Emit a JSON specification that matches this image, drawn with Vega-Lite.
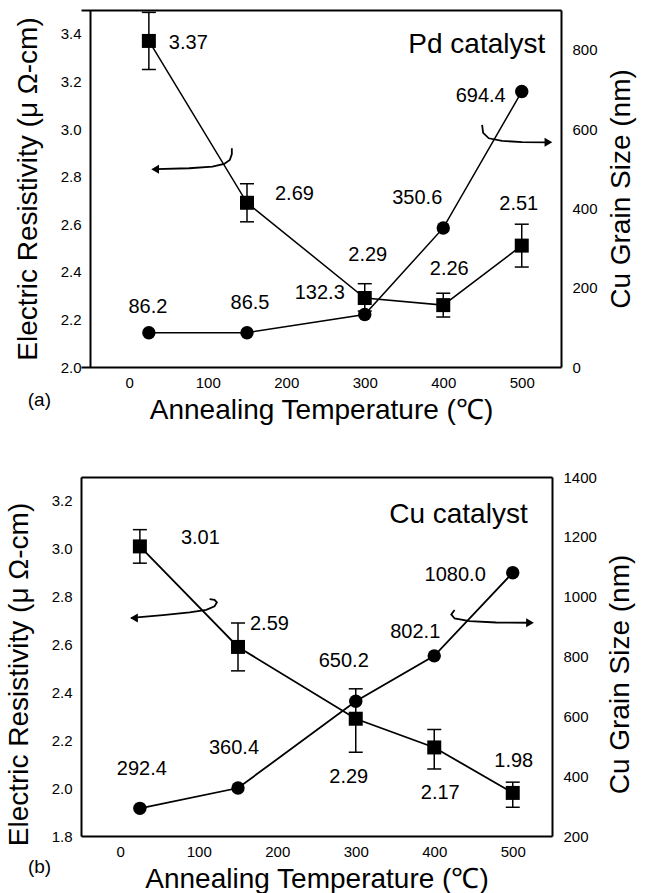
{
  "$schema": "https://vega.github.io/schema/vega-lite/v6.json",
  "padding": {"left": 5, "top": 9, "right": 5, "bottom": 1},
  "config": {
    "font": "Liberation Sans",
    "view": {"stroke": null},
    "axis": {"labelFont": "Liberation Sans", "labelFontSize": 15, "labelColor": "black", "titleFont": "Liberation Sans", "titleFontWeight": "normal", "titleColor": "black", "domainColor": "black", "domainWidth": 2, "ticks": false, "tickSize": 0, "grid": false},
    "text": {"font": "Liberation Sans", "color": "black"}
  },
  "datasets": {
    "resA": [{"T":25,"res":3.37,"lo":3.25,"hi":3.49},{"T":150,"res":2.69,"lo":2.61,"hi":2.77},{"T":300,"res":2.29,"lo":2.235,"hi":2.35},{"T":400,"res":2.26,"lo":2.21,"hi":2.31},{"T":500,"res":2.51,"lo":2.42,"hi":2.60}],
    "grainA": [{"T":25,"g":86.2},{"T":150,"g":86.5},{"T":300,"g":132.3},{"T":400,"g":350.6},{"T":500,"g":694.4}],
    "arrowsA": [{"id":"L","ord":0,"T":34.0,"res":2.831},{"id":"L","ord":1,"T":76.3,"res":2.835},{"id":"L","ord":2,"T":106.0,"res":2.842},{"id":"L","ord":3,"T":120.9,"res":2.853},{"id":"L","ord":4,"T":128.1,"res":2.870},{"id":"L","ord":5,"T":130.7,"res":2.895},{"id":"L","ord":6,"T":130.7,"res":2.919},
                {"id":"R","ord":0,"T":449.5,"res":3.017},{"id":"R","ord":1,"T":450.8,"res":2.984},{"id":"R","ord":2,"T":458.0,"res":2.961},{"id":"R","ord":3,"T":474.9,"res":2.950},{"id":"R","ord":4,"T":500.4,"res":2.945},{"id":"R","ord":5,"T":534.0,"res":2.944}],
    "headsA": [{"T":33,"res":2.831,"dir":"left"},{"T":534,"res":2.944,"dir":"right"}],
    "notesA": [{"T":530,"res":3.353,"txt":"Pd catalyst"}],
    "tagA": [{"T":-114.5,"res":1.861,"txt":"(a)"}],
    "resB": [{"T":25,"res":3.01,"lo":2.94,"hi":3.08},{"T":150,"res":2.59,"lo":2.49,"hi":2.69},{"T":300,"res":2.29,"lo":2.15,"hi":2.415},{"T":400,"res":2.17,"lo":2.08,"hi":2.245},{"T":500,"res":1.98,"lo":1.92,"hi":2.025}],
    "grainB": [{"T":25,"g":292.4},{"T":150,"g":360.4},{"T":300,"g":650.2},{"T":400,"g":802.1},{"T":500,"g":1080.0}],
    "arrowsB": [{"id":"L","ord":0,"T":14.0,"res":2.711},{"id":"L","ord":1,"T":54.3,"res":2.723},{"id":"L","ord":2,"T":88.3,"res":2.734},{"id":"L","ord":3,"T":109.6,"res":2.745},{"id":"L","ord":4,"T":120.1,"res":2.760},{"id":"L","ord":5,"T":123.1,"res":2.776},{"id":"L","ord":6,"T":120.1,"res":2.787},{"id":"L","ord":7,"T":113.8,"res":2.790},
                {"id":"R","ord":0,"T":425.9,"res":2.744},{"id":"R","ord":1,"T":421.7,"res":2.726},{"id":"R","ord":2,"T":425.9,"res":2.709},{"id":"R","ord":3,"T":445.0,"res":2.698},{"id":"R","ord":4,"T":479.0,"res":2.692},{"id":"R","ord":5,"T":522.0,"res":2.691}],
    "headsB": [{"T":17.5,"res":2.711,"dir":"left"},{"T":522,"res":2.691,"dir":"right"}],
    "notesB": [{"T":519,"res":3.14,"txt":"Cu catalyst"}],
    "tagB": [{"T":-102.8,"res":1.671,"txt":"(b)"}],
    "xMaj": [{"v":0},{"v":100},{"v":200},{"v":300},{"v":400},{"v":500}],
    "xMin": [{"v":50},{"v":150},{"v":250},{"v":350},{"v":450}],
    "yMajA": [{"v":2.2},{"v":2.4},{"v":2.6},{"v":2.8},{"v":3.0},{"v":3.2},{"v":3.4}],
    "yMinA": [{"v":2.1},{"v":2.3},{"v":2.5},{"v":2.7},{"v":2.9},{"v":3.1},{"v":3.3}],
    "gMajA": [{"v":200},{"v":400},{"v":600},{"v":800}],
    "gMinA": [{"v":100},{"v":300},{"v":500},{"v":700}],
    "yMajB": [{"v":2.0},{"v":2.2},{"v":2.4},{"v":2.6},{"v":2.8},{"v":3.0},{"v":3.2}],
    "yMinB": [{"v":1.9},{"v":2.1},{"v":2.3},{"v":2.5},{"v":2.7},{"v":2.9},{"v":3.1}],
    "gMajB": [{"v":400},{"v":600},{"v":800},{"v":1000},{"v":1200}],
    "gMinB": [{"v":300},{"v":500},{"v":700},{"v":900},{"v":1100},{"v":1300}]
  },
  "spacing": 46,
  "vconcat": [
    {
      "width": 480, "height": 357,
      "resolve": {"scale": {"y": "independent"}, "axis": {"x": "independent", "y": "independent"}},
      "layer": [
        {
          "data": {"name": "resA"},
          "encoding": {
            "x": {"field": "T", "type": "quantitative", "scale": {"domain": [-61.45, 550], "nice": false, "zero": false},
              "axis": {"orient": "bottom", "values": [0,100,200,300,400,500], "labelPadding": 8, "title": "Annealing Temperature (℃)", "titleFontSize": 28, "titlePadding": 6, "encode": {"domain": {"update": {"x": {"value": 9}}}}}},
            "y": {"field": "res", "type": "quantitative", "scale": {"domain": [2.0, 3.5], "nice": false, "zero": false},
              "axis": {"orient": "left", "offset": -9, "values": [2.0,2.2,2.4,2.6,2.8,3.0,3.2,3.4], "format": ".1f", "labelPadding": 9, "title": "Electric Resistivity (μ Ω-cm)", "titleFontSize": 28, "titlePadding": 18}}
          },
          "layer": [
            {"data": {"name": "xMaj"}, "mark": {"type": "point", "shape": "M0,0V-1", "size": 256, "filled": false, "stroke": "black", "strokeWidth": 2, "opacity": 1}, "encoding": {"x": {"field": "v", "type": "quantitative"}, "y": {"datum": 2.0, "type": "quantitative"}}},
            {"data": {"name": "xMin"}, "mark": {"type": "point", "shape": "M0,0V-1", "size": 64, "filled": false, "stroke": "black", "strokeWidth": 1.6, "opacity": 1}, "encoding": {"x": {"field": "v", "type": "quantitative"}, "y": {"datum": 2.0, "type": "quantitative"}}},
            {"data": {"name": "xMaj"}, "mark": {"type": "point", "shape": "M0,0V1", "size": 256, "filled": false, "stroke": "black", "strokeWidth": 2, "opacity": 1}, "encoding": {"x": {"field": "v", "type": "quantitative"}, "y": {"datum": 3.5, "type": "quantitative"}}},
            {"data": {"name": "xMin"}, "mark": {"type": "point", "shape": "M0,0V1", "size": 64, "filled": false, "stroke": "black", "strokeWidth": 1.6, "opacity": 1}, "encoding": {"x": {"field": "v", "type": "quantitative"}, "y": {"datum": 3.5, "type": "quantitative"}}},
            {"data": {"name": "yMajA"}, "mark": {"type": "point", "shape": "M0,0H1", "size": 256, "filled": false, "stroke": "black", "strokeWidth": 2, "opacity": 1}, "encoding": {"y": {"field": "v", "type": "quantitative"}, "x": {"datum": -50, "type": "quantitative"}}},
            {"data": {"name": "yMinA"}, "mark": {"type": "point", "shape": "M0,0H1", "size": 64, "filled": false, "stroke": "black", "strokeWidth": 1.6, "opacity": 1}, "encoding": {"y": {"field": "v", "type": "quantitative"}, "x": {"datum": -50, "type": "quantitative"}}},
            {"mark": {"type": "rule", "color": "black", "strokeWidth": 1.5}, "encoding": {"y": {"field": "lo", "type": "quantitative"}, "y2": {"field": "hi"}}},
            {"transform": [{"fold": ["lo", "hi"], "as": ["k", "v"]}], "mark": {"type": "point", "shape": "M-1,0H1", "size": 196, "filled": false, "stroke": "black", "strokeWidth": 1.5, "opacity": 1}, "encoding": {"y": {"field": "v", "type": "quantitative"}}},
            {"mark": {"type": "line", "color": "black", "strokeWidth": 1.5}},
            {"mark": {"type": "point", "shape": "square", "size": 196, "filled": true, "color": "black", "opacity": 1}},
            {"transform": [{"filter": "datum.T == 25"}], "mark": {"type": "text", "fontSize": 20, "align": "left", "baseline": "middle", "dx": 20, "dy": 2}, "encoding": {"text": {"field": "res", "type": "quantitative", "format": ".2f"}}},
            {"transform": [{"filter": "datum.T == 150"}], "mark": {"type": "text", "fontSize": 20, "align": "left", "baseline": "middle", "dx": 28, "dy": -9}, "encoding": {"text": {"field": "res", "type": "quantitative", "format": ".2f"}}},
            {"transform": [{"filter": "datum.T == 300"}], "mark": {"type": "text", "fontSize": 20, "align": "center", "baseline": "middle", "dx": 3, "dy": -43}, "encoding": {"text": {"field": "res", "type": "quantitative", "format": ".2f"}}},
            {"transform": [{"filter": "datum.T == 400"}], "mark": {"type": "text", "fontSize": 20, "align": "center", "baseline": "middle", "dx": 6, "dy": -36}, "encoding": {"text": {"field": "res", "type": "quantitative", "format": ".2f"}}},
            {"transform": [{"filter": "datum.T == 500"}], "mark": {"type": "text", "fontSize": 20, "align": "center", "baseline": "middle", "dx": -3, "dy": -42}, "encoding": {"text": {"field": "res", "type": "quantitative", "format": ".2f"}}},
            {"data": {"name": "arrowsA"}, "mark": {"type": "line", "color": "black", "strokeWidth": 1.8}, "encoding": {"detail": {"field": "id"}, "order": {"field": "ord", "type": "quantitative"}}},
            {"data": {"name": "headsA"}, "mark": {"type": "point", "filled": true, "color": "black", "opacity": 1, "size": 80}, "encoding": {"shape": {"field": "dir", "type": "nominal", "scale": {"domain": ["left", "right"], "range": ["triangle-left", "triangle-right"]}, "legend": null}}},
            {"data": {"name": "notesA"}, "mark": {"type": "text", "fontSize": 28, "align": "right", "baseline": "middle"}, "encoding": {"text": {"field": "txt"}}},
            {"data": {"name": "tagA"}, "mark": {"type": "text", "fontSize": 19, "align": "center", "baseline": "middle"}, "encoding": {"text": {"field": "txt"}}}
          ]
        },
        {
          "data": {"name": "grainA"},
          "encoding": {
            "x": {"field": "T", "type": "quantitative",
              "axis": {"orient": "top", "values": [0,100,200,300,400,500], "labels": false, "title": null, "encode": {"domain": {"update": {"x": {"value": 9}}}}}},
            "y": {"field": "g", "type": "quantitative", "scale": {"domain": [0, 900], "nice": false, "zero": false},
              "axis": {"orient": "right", "values": [0,200,400,600,800], "format": "d", "labelPadding": 11, "title": "Cu Grain Size (nm)", "titleFontSize": 28, "titleAngle": 270, "titleBaseline": "top", "titlePadding": 10}}
          },
          "layer": [
            {"data": {"name": "gMajA"}, "mark": {"type": "point", "shape": "M0,0H-1", "size": 256, "filled": false, "stroke": "black", "strokeWidth": 2, "opacity": 1}, "encoding": {"y": {"field": "v", "type": "quantitative"}, "x": {"datum": 550, "type": "quantitative"}}},
            {"data": {"name": "gMinA"}, "mark": {"type": "point", "shape": "M0,0H-1", "size": 64, "filled": false, "stroke": "black", "strokeWidth": 1.6, "opacity": 1}, "encoding": {"y": {"field": "v", "type": "quantitative"}, "x": {"datum": 550, "type": "quantitative"}}},
            {"mark": {"type": "line", "color": "black", "strokeWidth": 1.5}},
            {"mark": {"type": "point", "shape": "circle", "size": 180, "filled": true, "color": "black", "opacity": 1}},
            {"transform": [{"filter": "datum.T == 25"}], "mark": {"type": "text", "fontSize": 20, "align": "center", "baseline": "middle", "dx": -1, "dy": -26}, "encoding": {"text": {"field": "g", "type": "quantitative", "format": ".1f"}}},
            {"transform": [{"filter": "datum.T == 150"}], "mark": {"type": "text", "fontSize": 20, "align": "center", "baseline": "middle", "dx": 3, "dy": -30}, "encoding": {"text": {"field": "g", "type": "quantitative", "format": ".1f"}}},
            {"transform": [{"filter": "datum.T == 300"}], "mark": {"type": "text", "fontSize": 20, "align": "center", "baseline": "middle", "dx": -45, "dy": -22}, "encoding": {"text": {"field": "g", "type": "quantitative", "format": ".1f"}}},
            {"transform": [{"filter": "datum.T == 400"}], "mark": {"type": "text", "fontSize": 20, "align": "center", "baseline": "middle", "dx": -26, "dy": -30}, "encoding": {"text": {"field": "g", "type": "quantitative", "format": ".1f"}}},
            {"transform": [{"filter": "datum.T == 500"}], "mark": {"type": "text", "fontSize": 20, "align": "right", "baseline": "middle", "dx": -16, "dy": 4}, "encoding": {"text": {"field": "g", "type": "quantitative", "format": ".1f"}}}
          ]
        }
      ]
    },
    {
      "width": 471, "height": 359,
      "resolve": {"scale": {"y": "independent"}, "axis": {"x": "independent", "y": "independent"}},
      "layer": [
        {
          "data": {"name": "resB"},
          "encoding": {
            "x": {"field": "T", "type": "quantitative", "scale": {"domain": [-50, 550], "nice": false, "zero": false},
              "axis": {"orient": "bottom", "values": [0,100,200,300,400,500], "labelPadding": 8, "title": "Annealing Temperature (℃)", "titleFontSize": 28, "titlePadding": 6}},
            "y": {"field": "res", "type": "quantitative", "scale": {"domain": [1.8, 3.3], "nice": false, "zero": false},
              "axis": {"orient": "left", "values": [1.8,2.0,2.2,2.4,2.6,2.8,3.0,3.2], "format": ".1f", "labelPadding": 9, "title": "Electric Resistivity (μ Ω-cm)", "titleFontSize": 28, "titlePadding": 18, "titleY": 197}}
          },
          "layer": [
            {"data": {"name": "xMaj"}, "mark": {"type": "point", "shape": "M0,0V-1", "size": 256, "filled": false, "stroke": "black", "strokeWidth": 2, "opacity": 1}, "encoding": {"x": {"field": "v", "type": "quantitative"}, "y": {"datum": 1.8, "type": "quantitative"}}},
            {"data": {"name": "xMin"}, "mark": {"type": "point", "shape": "M0,0V-1", "size": 64, "filled": false, "stroke": "black", "strokeWidth": 1.6, "opacity": 1}, "encoding": {"x": {"field": "v", "type": "quantitative"}, "y": {"datum": 1.8, "type": "quantitative"}}},
            {"data": {"name": "xMaj"}, "mark": {"type": "point", "shape": "M0,0V1", "size": 256, "filled": false, "stroke": "black", "strokeWidth": 2, "opacity": 1}, "encoding": {"x": {"field": "v", "type": "quantitative"}, "y": {"datum": 3.3, "type": "quantitative"}}},
            {"data": {"name": "xMin"}, "mark": {"type": "point", "shape": "M0,0V1", "size": 64, "filled": false, "stroke": "black", "strokeWidth": 1.6, "opacity": 1}, "encoding": {"x": {"field": "v", "type": "quantitative"}, "y": {"datum": 3.3, "type": "quantitative"}}},
            {"data": {"name": "yMajB"}, "mark": {"type": "point", "shape": "M0,0H1", "size": 256, "filled": false, "stroke": "black", "strokeWidth": 2, "opacity": 1}, "encoding": {"y": {"field": "v", "type": "quantitative"}, "x": {"datum": -50, "type": "quantitative"}}},
            {"data": {"name": "yMinB"}, "mark": {"type": "point", "shape": "M0,0H1", "size": 64, "filled": false, "stroke": "black", "strokeWidth": 1.6, "opacity": 1}, "encoding": {"y": {"field": "v", "type": "quantitative"}, "x": {"datum": -50, "type": "quantitative"}}},
            {"mark": {"type": "rule", "color": "black", "strokeWidth": 1.5}, "encoding": {"y": {"field": "lo", "type": "quantitative"}, "y2": {"field": "hi"}}},
            {"transform": [{"fold": ["lo", "hi"], "as": ["k", "v"]}], "mark": {"type": "point", "shape": "M-1,0H1", "size": 196, "filled": false, "stroke": "black", "strokeWidth": 1.5, "opacity": 1}, "encoding": {"y": {"field": "v", "type": "quantitative"}}},
            {"mark": {"type": "line", "color": "black", "strokeWidth": 1.8}},
            {"mark": {"type": "point", "shape": "square", "size": 196, "filled": true, "color": "black", "opacity": 1}},
            {"transform": [{"filter": "datum.T == 25"}], "mark": {"type": "text", "fontSize": 20, "align": "left", "baseline": "middle", "dx": 41, "dy": -8}, "encoding": {"text": {"field": "res", "type": "quantitative", "format": ".2f"}}},
            {"transform": [{"filter": "datum.T == 150"}], "mark": {"type": "text", "fontSize": 20, "align": "left", "baseline": "middle", "dx": 12, "dy": -23}, "encoding": {"text": {"field": "res", "type": "quantitative", "format": ".2f"}}},
            {"transform": [{"filter": "datum.T == 300"}], "mark": {"type": "text", "fontSize": 20, "align": "center", "baseline": "middle", "dx": -7, "dy": 58}, "encoding": {"text": {"field": "res", "type": "quantitative", "format": ".2f"}}},
            {"transform": [{"filter": "datum.T == 400"}], "mark": {"type": "text", "fontSize": 20, "align": "center", "baseline": "middle", "dx": 6, "dy": 46}, "encoding": {"text": {"field": "res", "type": "quantitative", "format": ".2f"}}},
            {"transform": [{"filter": "datum.T == 500"}], "mark": {"type": "text", "fontSize": 20, "align": "center", "baseline": "middle", "dx": 1, "dy": -32}, "encoding": {"text": {"field": "res", "type": "quantitative", "format": ".2f"}}},
            {"data": {"name": "arrowsB"}, "mark": {"type": "line", "color": "black", "strokeWidth": 1.8}, "encoding": {"detail": {"field": "id"}, "order": {"field": "ord", "type": "quantitative"}}},
            {"data": {"name": "headsB"}, "mark": {"type": "point", "filled": true, "color": "black", "opacity": 1, "size": 80}, "encoding": {"shape": {"field": "dir", "type": "nominal", "scale": {"domain": ["left", "right"], "range": ["triangle-left", "triangle-right"]}, "legend": null}}},
            {"data": {"name": "notesB"}, "mark": {"type": "text", "fontSize": 28, "align": "right", "baseline": "middle"}, "encoding": {"text": {"field": "txt"}}},
            {"data": {"name": "tagB"}, "mark": {"type": "text", "fontSize": 19, "align": "center", "baseline": "middle"}, "encoding": {"text": {"field": "txt"}}}
          ]
        },
        {
          "data": {"name": "grainB"},
          "encoding": {
            "x": {"field": "T", "type": "quantitative",
              "axis": {"orient": "top", "values": [0,100,200,300,400,500], "labels": false, "title": null}},
            "y": {"field": "g", "type": "quantitative", "scale": {"domain": [200, 1400], "nice": false, "zero": false},
              "axis": {"orient": "right", "values": [200,400,600,800,1000,1200,1400], "format": "d", "labelPadding": 11, "title": "Cu Grain Size (nm)", "titleFontSize": 28, "titleAngle": 270, "titleBaseline": "top", "titlePadding": 10, "titleY": 197}}
          },
          "layer": [
            {"data": {"name": "gMajB"}, "mark": {"type": "point", "shape": "M0,0H-1", "size": 256, "filled": false, "stroke": "black", "strokeWidth": 2, "opacity": 1}, "encoding": {"y": {"field": "v", "type": "quantitative"}, "x": {"datum": 550, "type": "quantitative"}}},
            {"data": {"name": "gMinB"}, "mark": {"type": "point", "shape": "M0,0H-1", "size": 64, "filled": false, "stroke": "black", "strokeWidth": 1.6, "opacity": 1}, "encoding": {"y": {"field": "v", "type": "quantitative"}, "x": {"datum": 550, "type": "quantitative"}}},
            {"mark": {"type": "line", "color": "black", "strokeWidth": 1.8}},
            {"mark": {"type": "point", "shape": "circle", "size": 180, "filled": true, "color": "black", "opacity": 1}},
            {"transform": [{"filter": "datum.T == 25"}], "mark": {"type": "text", "fontSize": 20, "align": "center", "baseline": "middle", "dx": 2, "dy": -39}, "encoding": {"text": {"field": "g", "type": "quantitative", "format": ".1f"}}},
            {"transform": [{"filter": "datum.T == 150"}], "mark": {"type": "text", "fontSize": 20, "align": "center", "baseline": "middle", "dx": -4, "dy": -40}, "encoding": {"text": {"field": "g", "type": "quantitative", "format": ".1f"}}},
            {"transform": [{"filter": "datum.T == 300"}], "mark": {"type": "text", "fontSize": 20, "align": "center", "baseline": "middle", "dx": -12, "dy": -40}, "encoding": {"text": {"field": "g", "type": "quantitative", "format": ".1f"}}},
            {"transform": [{"filter": "datum.T == 400"}], "mark": {"type": "text", "fontSize": 20, "align": "center", "baseline": "middle", "dx": -19, "dy": -24}, "encoding": {"text": {"field": "g", "type": "quantitative", "format": ".1f"}}},
            {"transform": [{"filter": "datum.T == 500"}], "mark": {"type": "text", "fontSize": 20, "align": "right", "baseline": "middle", "dx": -27, "dy": 2}, "encoding": {"text": {"field": "g", "type": "quantitative", "format": ".1f"}}}
          ]
        }
      ]
    }
  ]
}
